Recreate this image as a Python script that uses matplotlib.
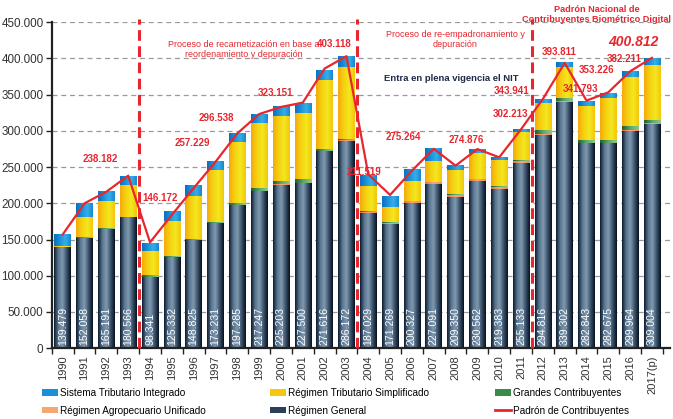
import numpy as np
import matplotlib
matplotlib.use("Agg")
import matplotlib.pyplot as plt
from matplotlib.colors import LinearSegmentedColormap
from matplotlib.patches import Patch
from matplotlib.lines import Line2D

plt.rcParams["font.family"] = ["Liberation Sans", "DejaVu Sans"]

# datos
years = ["1990", "1991", "1992", "1993", "1994", "1995", "1996", "1997", "1998", "1999",
         "2000", "2001", "2002", "2003", "2004", "2005", "2006", "2007", "2008", "2009",
         "2010", "2011", "2012", "2013", "2014", "2015", "2016", "2017(p)"]
regimen_general = [139479, 152058, 165191, 180566, 98341, 125332, 148825, 173231, 197285, 217247,
                   225203, 227500, 271616, 286172, 187029, 171269, 200327, 227091, 209350, 230562,
                   219383, 255133, 294816, 339302, 282843, 282675, 299964, 309004]
agropecuario = [0, 0, 0, 0, 0, 0, 0, 0, 0, 0,
                1000, 1000, 1000, 1500, 1500, 1500, 2500, 2000, 2000, 2500,
                3000, 3000, 1500, 2000, 1000, 1000, 1500, 2000]
grandes = [800, 800, 800, 800, 2500, 2000, 2000, 1500, 3000, 4000,
           4000, 5000, 2000, 1000, 1000, 1000, 1000, 1000, 1500, 1000,
           1000, 2000, 4500, 4500, 4000, 4000, 5000, 4500]
simplificado = [800, 28000, 37000, 44000, 34000, 48000, 59000, 71000, 84000, 89000,
                91000, 91000, 96000, 100000, 34000, 21000, 27000, 29000, 33000, 35000,
                36000, 38000, 37000, 42000, 47000, 58000, 68000, 76000]
integrado = [16000, 19000, 14000, 13000, 11000, 14000, 15000, 12000, 13000, 13000,
             13500, 14000, 14000, 14000, 16000, 16000, 16000, 17000, 7000, 6000,
             4500, 4000, 6000, 7500, 7000, 7000, 8000, 9500]
padron = [157000, 200000, 216000, 238182, 146172, 184000, 221000, 257229, 296538, 323151,
          333000, 339000, 386000, 403118, 240000, 211519, 245000, 275264, 252000, 274876,
          263500, 302213, 343941, 393811, 341793, 353226, 382211, 400812]

RED = "#e8262e"

cmaps = {
    "general": LinearSegmentedColormap.from_list("g", ["#0d1c30", "#5a7690", "#7f99b0", "#3b536b", "#06101e"]),
    "agro": LinearSegmentedColormap.from_list("a", ["#e8703e", "#f7a77c", "#f08a5a"]),
    "grandes": LinearSegmentedColormap.from_list("gc", ["#1d5e2f", "#5fa86a", "#8cc88c"]),
    "simpl": LinearSegmentedColormap.from_list("s", ["#f4a90c", "#f6d010", "#f2e81e", "#f5c40c"]),
    "integ": LinearSegmentedColormap.from_list("i", ["#0a6fbf", "#1a90d8", "#37aee8", "#1787d2"]),
}
gradient = np.linspace(0, 1, 64).reshape(1, -1)


def gradient_bars(ax, x, heights, bottoms, cmap, width=0.76):
    bars = ax.bar(x, heights, width, bottom=bottoms, color="none", edgecolor="none", zorder=2)
    for b in bars:
        if b.get_height() <= 0:
            continue
        x0, y0 = b.get_x(), b.get_y()
        im = ax.imshow(gradient, cmap=cmap, aspect="auto", zorder=2,
                       extent=(x0, x0 + b.get_width(), y0, y0 + b.get_height()))
        im.set_clip_path(b)
    return bars


def fmt(v):
    return f"{int(v):,}".replace(",", ".")


fig = plt.figure(figsize=(6.73, 4.19), dpi=100)
ax = fig.add_axes([0.077, 0.169, 0.919, 0.778])

x = np.arange(len(years))
bottom = np.zeros(len(years))
for vals, key in [(regimen_general, "general"), (agropecuario, "agro"), (grandes, "grandes"),
                  (simplificado, "simpl"), (integrado, "integ")]:
    vals = np.array(vals, dtype=float)
    gradient_bars(ax, x, vals, bottom, cmaps[key])
    bottom += vals

ax.plot(x, padron, color=RED, lw=1.6, zorder=4)

# valores régimen general
for i, v in enumerate(regimen_general):
    ax.text(i, 4500, fmt(v), rotation=90, ha="center", va="bottom",
            color="white", fontsize=7.6, zorder=5)

# etiquetas del padrón
label_offsets = {3: (-28, 17), 4: (10, 44), 7: (-23, 19), 8: (-21, 15), 9: (16, 21),
                 13: (-12, 12), 15: (-26, 23), 17: (-30, 12), 19: (-11, 9), 21: (-11, 15),
                 22: (-31, 8), 23: (-6, 11), 24: (-6, 12), 25: (-12, 22), 26: (-6, 12)}
for i, (dx, dy) in label_offsets.items():
    ax.annotate(fmt(padron[i]), (i, padron[i]), xytext=(dx, dy),
                textcoords="offset pixels", ha="center", va="center", color=RED,
                fontsize=7, fontweight="bold", zorder=6)
ax.annotate(fmt(padron[27]), (27, padron[27]), xytext=(-19, 16),
            textcoords="offset pixels", ha="center", va="center", color=RED,
            fontsize=10, fontweight="bold", style="italic", zorder=6)

# separadores de periodos
for xv in [3.5, 13.5, 21.5]:
    ax.axvline(xv, ymin=0, ymax=1.01, color=RED, lw=2.2, ls=(0, (3.5, 1.8)), zorder=3, clip_on=False)

ax.text(8.3, 412000, "Proceso de recarnetización en base a\nreordenamiento y depuración",
        ha="center", va="center", color=RED, fontsize=6.5, linespacing=1.2)
ax.text(18.0, 426000, "Proceso de re-empadronamiento y\ndepuración",
        ha="center", va="center", color=RED, fontsize=6.5, linespacing=1.2)
ax.text(17.8, 372000, "Entra en plena vigencia el NIT", ha="center", va="center",
        color="#1f2a4a", fontsize=6.8, fontweight="bold")
ax.text(24.45, 461000, "Padrón Nacional de\nContribuyentes Biométrico Digital",
        ha="center", va="center", color=RED, fontsize=6.6, fontweight="bold",
        linespacing=1.2, clip_on=False)

ax.set_xlim(-0.5, 27.84)
ax.set_ylim(0, 450000)
yt = np.arange(0, 450001, 50000)
ax.set_yticks(yt)
ax.set_yticklabels([fmt(v) for v in yt], fontsize=8.4, color="#333333")
ax.set_xticks(x)
ax.set_xticklabels(years, rotation=90, fontsize=8, color="#333333")
ax.set_xticks(np.arange(-0.5, 28, 1), minor=True)
ax.tick_params(axis="x", which="major", length=0, pad=5)
ax.tick_params(axis="x", which="minor", length=4, width=1, color="#222222")
ax.tick_params(axis="y", length=4, width=1, color="#222222", pad=2)
ax.grid(axis="y", ls=(0, (4, 3)), color="#9a9a9a", lw=0.9, zorder=0)
ax.set_axisbelow(True)
for s in ["top", "right"]:
    ax.spines[s].set_visible(False)
for s in ["left", "bottom"]:
    ax.spines[s].set_linewidth(1.6)
    ax.spines[s].set_color("#222222")

legend_cols = [
    [Patch(facecolor="#1a90d8", label="Sistema Tributario Integrado"),
     Patch(facecolor="#f2a870", label="Régimen Agropecuario Unificado")],
    [Patch(facecolor="#f4c80e", label="Régimen Tributario Simplificado"),
     Patch(facecolor="#2b3f58", label="Régimen General")],
    [Patch(facecolor="#3a8a4a", label="Grandes Contribuyentes"),
     Line2D([], [], color=RED, lw=2, label="Padrón de Contribuyentes")],
]
for xpos, hs in zip([42, 270, 495], legend_cols):
    fig.legend(handles=hs, loc="upper left", bbox_to_anchor=(xpos / 673, 1 - 388 / 419),
               frameon=False, fontsize=7.2, handlelength=1.6, handleheight=0.6,
               handletextpad=0.2, labelspacing=0.75, borderpad=0, borderaxespad=0)

fig.savefig("out.png", dpi=100)
